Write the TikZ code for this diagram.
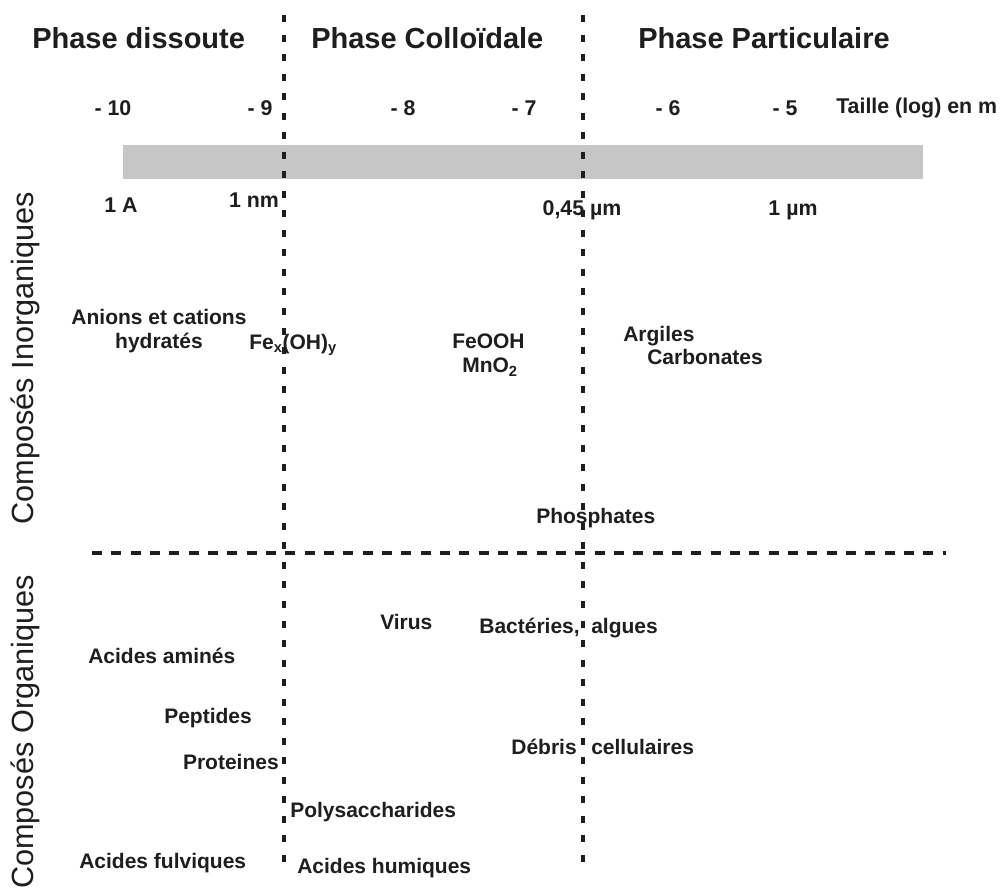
\documentclass[tikz,border=0pt]{standalone}
\usepackage{fontspec}
\setmainfont{Liberation Sans}
\definecolor{txt}{RGB}{30,30,30}
\definecolor{barfill}{RGB}{198,198,198}
\begin{document}
\begin{tikzpicture}[x=0.75pt,y=-0.75pt,
  title/.style={font=\bfseries\fontsize{21.75}{24}\selectfont, text=txt, inner sep=0, anchor=base west},
  side/.style={font=\fontsize{23}{26}\selectfont, text=txt, inner sep=0, rotate=90},
  tick/.style={font=\bfseries\fontsize{16}{18}\selectfont, text=txt, inner sep=0, text height=11.5pt, text depth=3pt},
  lbl/.style={font=\bfseries\fontsize{15.75}{18}\selectfont, text=txt, inner sep=0, text height=12pt, text depth=2pt},
  vdiv/.style={line width=2.8pt, dash pattern=on 5.25pt off 9.4pt, draw=txt},
  hdiv/.style={line width=2.6pt, dash pattern=on 7.5pt off 7pt, draw=txt}]

\useasboundingbox (0,0) rectangle (1005,894);
\fill[white] (0,0) rectangle (1005,894);

% size bar
\fill[barfill] (123,145) rectangle (923,179);

% dividers
\coordinate (v1top) at (284,15);
\coordinate (v1bot) at (284,866);
\coordinate (v2top) at (583,15);
\coordinate (v2bot) at (583,866);
\coordinate (hleft) at (92,553);
\coordinate (hright) at (946,553);
\draw[vdiv] (v1top) -- (v1bot);
\draw[vdiv] (v2top) -- (v2bot);
\draw[hdiv] (hleft) -- (hright);

% phase titles
\node[title] (ph1) at (32,48) {Phase dissoute};
\node[title] (ph2) at (311,48) {Phase Colloïdale};
\node[title] (ph3) at (638,48) {Phase Particulaire};

% log scale ticks
\node[tick] (t10) at (113,110) {- 10};
\node[tick] (t9) at (260,110) {- 9};
\node[tick] (t8) at (403,110) {- 8};
\node[tick] (t7) at (524,110) {- 7};
\node[tick] (t6) at (668,110) {- 6};
\node[tick] (t5) at (785,110) {- 5};
\node[tick, anchor=west] (taille) at (836,108) {Taille (log) en m};

% sizes
\node[tick] (s1) at (121,207) {1 A};
\node[tick] (s2) at (254,202) {1 nm};
\node[tick] (s3) at (582,210) {0,45 µm};
\node[tick] (s4) at (793,210) {1 µm};

% side titles
\node[side] (inorg) at (25,358) {Composés Inorganiques};
\node[side] (org) at (25,732) {Composés Organiques};

% inorganic compounds
\node[lbl, align=center] (anions) at (159,342) {Anions et cations\\hydratés};
\node[lbl, anchor=west] (fexoh) at (249,343) {Fe\textsubscript{x}(OH)\textsubscript{y}};
\node[lbl, anchor=west] (feooh) at (452,342) {FeOOH};
\node[lbl, anchor=west] (mno) at (462,366) {MnO\textsubscript{2}};
\node[lbl, anchor=west] (argiles) at (623,335) {Argiles};
\node[lbl, anchor=west] (carb) at (647,358) {Carbonates};
\node[lbl, anchor=west] (phos) at (536,517) {Phosphates};

% organic compounds
\node[lbl, anchor=west] (virus) at (380,623) {Virus};
\node[lbl, anchor=east] (bact) at (580,627) {Bactéries,};
\node[lbl, anchor=west] (algues) at (591,627) {algues};
\node[lbl, anchor=west] (amines) at (88,657) {Acides aminés};
\node[lbl, anchor=west] (pept) at (164,717) {Peptides};
\node[lbl, anchor=east] (prot) at (279,763) {Proteines};
\node[lbl, anchor=east] (debris) at (577,748) {Débris};
\node[lbl, anchor=west] (cell) at (591,748) {cellulaires};
\node[lbl, anchor=west] (poly) at (290,811) {Polysaccharides};
\node[lbl, anchor=west] (fulv) at (79,862) {Acides fulviques};
\node[lbl, anchor=west] (hum) at (297,867) {Acides humiques};
\end{tikzpicture}
\end{document}
